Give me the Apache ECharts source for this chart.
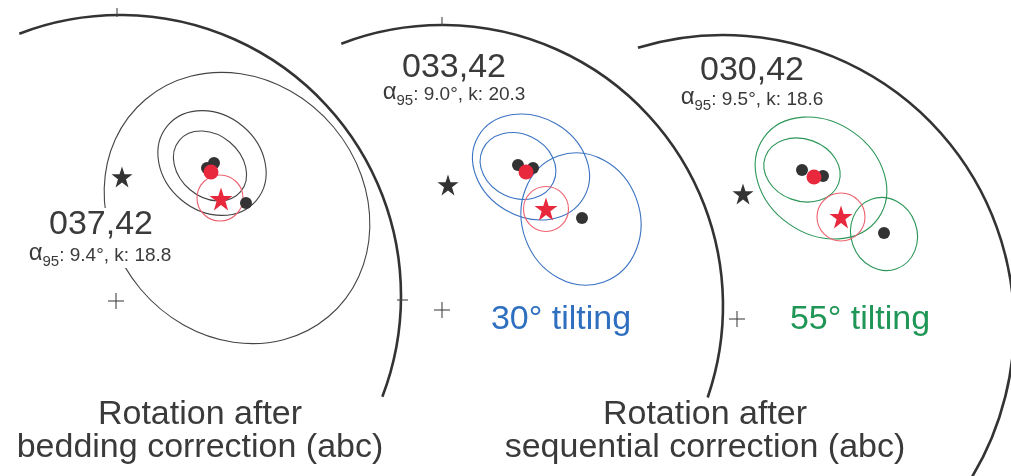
<!DOCTYPE html>
<html><head><meta charset="utf-8">
<script src="https://cdn.jsdelivr.net/npm/echarts@6/dist/echarts.min.js"></script>
<style>html,body{margin:0;padding:0;background:#fff}#c{width:1011px;height:476px}</style>
</head><body><div id="c"></div>
<script>
// ---------- data (figure coordinates; y grows downward) ----------
const netCenters = [[120,296],[442,306],[723,326]];
const netRadii = [281, 281, 291];
const netArcStart = [-111, -111, -107];
const netArcEnd = [21, 19, 45];
const plusMarks = [[116,301],[442,310],[737,319]];
const tickMarks = [[117,8,117,17],[397,300,408,300],[442,17,442,26]];
const blackStars = [[122,177],[448,185],[743,194]];
const redStars = [[221,199],[546,209],[841,217]];
const redCircles = [[220,198,23],[546,209,22.5],[841,217,24]];
const blackDots = [[214,163],[207,168],[246,203],[518,165],[533,168],[582,218],[802,170],[823,176],[884,233]];
const redDots = [[211,172],[526,172],[814,177]];
// cx, cy, semi-major, semi-minor, tilt (deg, clockwise from east), net
const ellipses = [
  [237,208,142,126,50,0],
  [212,163,58,48,40,0],
  [210,166,40,31,40,0],
  [531,167,61,50,30,1],
  [518,166,39,32,25,1],
  [581,219,67,59,70,1],
  [821,178,70,56,35,2],
  [802,170,39,31,20,2],
  [884,234,37,33,70,2]
];
const meanDirections = ['037,42','033,42','030,42'];
const alpha95 = ['9.4°','9.0°','9.5°'];
const kappa = ['18.8','20.3','18.6'];
const tiltLabels = ['30° tilting','55° tilting'];
const panelTitles = [['Rotation after','bedding correction (abc)'],['Rotation after','sequential correction (abc)']];

// ---------- layout ----------
const FONT = '"Liberation Sans", Arial, sans-serif';
const TXT = '#3a3a3a';
const netColors = ['#444444','#3b73c2','#2b9657'];
const tiltColors = ['#2f6fc0','#1f9655'];
const meanPos = [[101,237],[454,80],[752,83]];
const statPos = [[100,262],[454,101],[752,106]];
const tiltPos = [[561,332],[860,332]];
const titlePos = [[200,427],[705,427]];
const STAR = 'path://M50,0 L61.8,35.4 L100,35.4 L69.1,57.3 L80.9,95.1 L50,72 L19.1,95.1 L30.9,57.3 L0,35.4 L38.2,35.4 Z';

const mctx = document.createElement('canvas').getContext('2d');
function tw(s, size){ mctx.font = size + 'px ' + FONT; return mctx.measureText(s).width; }
function txt(s, x, y, size, color, align){
  return {type:'text', x:x, y:y - 0.35*size, style:{text:s, font:size+'px '+FONT, fill:color,
    align:align||'center', textAlign:align||'center', verticalAlign:'middle', textVerticalAlign:'middle'}};
}

const chart = echarts.init(document.getElementById('c'), null, {renderer:'canvas'});
chart.setOption({
  animation:false,
  backgroundColor:'#fff',
  grid:{left:0,right:0,top:0,bottom:0},
  xAxis:{type:'value',min:0,max:1011,show:false},
  yAxis:{type:'value',min:0,max:476,inverse:true,show:false},
  series:[
    { type:'custom', name:'nets', clip:false,
      data: netCenters.map((c,i)=>[c[0],c[1],netRadii[i],netArcStart[i],netArcEnd[i]]),
      encode:{x:0,y:1},
      renderItem:(params, api)=>{
        const p = api.coord([api.value(0), api.value(1)]);
        const r = api.size([api.value(2), 0])[0];
        return {type:'arc', shape:{cx:p[0],cy:p[1],r:r,
          startAngle:api.value(3)*Math.PI/180, endAngle:api.value(4)*Math.PI/180, clockwise:true},
          style:{stroke:'#333',lineWidth:2.6,fill:null}};
      }
    },
    { type:'custom', name:'ticks', clip:false,
      data: tickMarks.concat(plusMarks.flatMap(p=>[[p[0]-8,p[1],p[0]+8,p[1]],[p[0],p[1]-8,p[0],p[1]+8]])),
      encode:{x:0,y:1},
      renderItem:(params, api)=>{
        const a = api.coord([api.value(0), api.value(1)]);
        const b = api.coord([api.value(2), api.value(3)]);
        return {type:'line', shape:{x1:a[0],y1:a[1],x2:b[0],y2:b[1]}, style:{stroke:'#444',lineWidth:1.1}};
      }
    },
    { type:'custom', name:'ellipses', clip:false,
      data: ellipses, encode:{x:0,y:1},
      renderItem:(params, api)=>{
        const p = api.coord([api.value(0), api.value(1)]);
        const s = api.size([api.value(2), api.value(3)]);
        return {type:'ellipse', x:p[0], y:p[1], rotation:-api.value(4)*Math.PI/180,
          shape:{cx:0,cy:0,rx:s[0],ry:s[1]},
          style:{stroke:netColors[api.value(5)],lineWidth:1.1,fill:null}};
      }
    },
    { type:'custom', name:'red circles', clip:false,
      data: redCircles, encode:{x:0,y:1},
      renderItem:(params, api)=>{
        const p = api.coord([api.value(0), api.value(1)]);
        const r = api.size([api.value(2), 0])[0];
        return {type:'circle', shape:{cx:p[0],cy:p[1],r:r}, style:{stroke:'#ee6270',lineWidth:1.1,fill:null}};
      }
    },
    { type:'scatter', name:'dots', data: blackDots, symbol:'circle', symbolSize:12,
      itemStyle:{color:'#333',opacity:1}, silent:true },
    { type:'scatter', name:'mean', data: redDots, symbol:'circle', symbolSize:15,
      itemStyle:{color:'#e8283c',opacity:1}, silent:true },
    { type:'scatter', name:'reference', data: blackStars, symbol:STAR, symbolSize:21,
      itemStyle:{color:'#333',opacity:1}, silent:true },
    { type:'scatter', name:'expected', data: redStars, symbol:STAR, symbolSize:23,
      itemStyle:{color:'#e8283c',opacity:1}, silent:true },
    { type:'custom', name:'mean labels', clip:false, z:5,
      data: meanPos, encode:{x:0,y:1},
      renderItem:(params, api)=>{
        const i = params.dataIndex;
        const p = api.coord([api.value(0), api.value(1)]);
        const sp = api.coord(statPos[i]);
        const main = ': ' + alpha95[i] + ', k: ' + kappa[i];
        const wa = tw('α',24), ws = tw('95',15), wm = tw(main,19);
        const x0 = sp[0] - (wa+ws+wm)/2;
        return {type:'group', children:[
          {type:'rect', shape:{x:p[0]-62,y:p[1]-29,width:124,height:60}, style:{fill:'#fff'}},
          txt(meanDirections[i], p[0], p[1], 34, TXT),
          txt('α', x0, sp[1], 24, TXT, 'left'),
          txt('95', x0+wa, sp[1]+5, 15, TXT, 'left'),
          txt(main, x0+wa+ws, sp[1], 19, TXT, 'left')
        ]};
      }
    },
    { type:'custom', name:'tilt labels', clip:false, z:5,
      data: tiltPos, encode:{x:0,y:1},
      renderItem:(params, api)=>{
        const i = params.dataIndex;
        const p = api.coord([api.value(0), api.value(1)]);
        return txt(tiltLabels[i], p[0], p[1], 34, tiltColors[i]);
      }
    },
    { type:'custom', name:'titles', clip:false, z:5,
      data: titlePos, encode:{x:0,y:1},
      renderItem:(params, api)=>{
        const i = params.dataIndex;
        const p = api.coord([api.value(0), api.value(1)]);
        return {type:'group', children:[
          txt(panelTitles[i][0], p[0], p[1], 34, TXT),
          txt(panelTitles[i][1], p[0], p[1]+33, 34, TXT)
        ]};
      }
    }
  ]
});
</script></body></html>
